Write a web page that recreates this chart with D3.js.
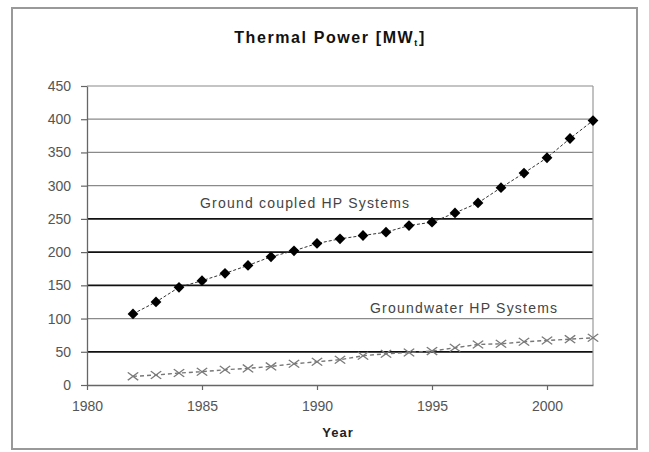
<!DOCTYPE html>
<html>
<head>
<meta charset="utf-8">
<script src="https://cdn.jsdelivr.net/npm/d3@7"></script>
<style>
  html, body { margin: 0; padding: 0; background: #fff; }
  svg { display: block; font-family: "Liberation Sans", Arial, sans-serif; }
</style>
</head>
<body>
<svg id="chart" width="649" height="452"></svg>
<script>
// ---- data ----
const years = [1982,1983,1984,1985,1986,1987,1988,1989,1990,1991,1992,1993,1994,1995,1996,1997,1998,1999,2000,2001,2002];
const groundCoupled = [107,125,147,157,168,180,193,202,213,220,225,230,240,245,259,274,297,319,342,371,398];
const groundwater = [13,15,18,20,23,25,28,32,35,38,44,47,49,51,56,61,62,65,67,69,71];
const yTicks = [0,50,100,150,200,250,300,350,400,450];
const xTicks = [1980,1985,1990,1995,2000];
const darkGrid = [50,150,200,250];
const lightGrid = [100,300,350,400,450];
const title = "Thermal Power [MW";
const titleSub = "t";
const xTitle = "Year";
const seriesLabels = ["Ground coupled HP Systems", "Groundwater HP Systems"];

// ---- layout ----
const svg = d3.select("#chart");
const x = d3.scaleLinear().domain([1980, 2002]).range([87, 593]);
const y = d3.scaleLinear().domain([0, 450]).range([385, 86]);

svg.append("rect").attr("width", 649).attr("height", 452).attr("fill", "#fff");
// outer frame
svg.append("rect").attr("x", 12).attr("y", 8).attr("width", 625).attr("height", 441)
  .attr("fill", "none").attr("stroke", "#999").attr("stroke-width", 2);

// title
const t = svg.append("text").attr("x", 330).attr("y", 43).attr("text-anchor", "middle")
  .attr("font-size", 16).attr("font-weight", "bold").attr("fill", "#111")
  .attr("letter-spacing", 1.6);
t.append("tspan").text(title);
t.append("tspan").attr("font-size", 9).attr("dy", 3).text(titleSub);
t.append("tspan").attr("dy", -3).text("]");

// gridlines
svg.append("g").selectAll("line").data(lightGrid).join("line")
  .attr("x1", x(1980)).attr("x2", x(2002)).attr("y1", d => y(d)).attr("y2", d => y(d))
  .attr("stroke", "#8a8a8a").attr("stroke-width", 1.2);
svg.append("g").selectAll("line").data(darkGrid).join("line")
  .attr("x1", x(1980)).attr("x2", x(2002)).attr("y1", d => y(d)).attr("y2", d => y(d))
  .attr("stroke", "#111").attr("stroke-width", 1.8);
// right plot border
svg.append("line").attr("x1", x(2002)).attr("x2", x(2002)).attr("y1", y(450)).attr("y2", y(0))
  .attr("stroke", "#999").attr("stroke-width", 1.2);

// axes
const yAxis = svg.append("g").attr("transform", `translate(${x(1980)},0)`)
  .call(d3.axisLeft(y).tickValues(yTicks).tickSize(6).tickSizeOuter(0).tickPadding(10));
const xAxis = svg.append("g").attr("transform", `translate(0,${y(0)})`)
  .call(d3.axisBottom(x).tickValues(xTicks).tickFormat(d3.format("d")).tickSize(5).tickSizeOuter(0).tickPadding(11));
[yAxis, xAxis].forEach(a => {
  a.select(".domain").attr("stroke", "#666").attr("stroke-width", 1.3);
  a.selectAll(".tick line").attr("stroke", "#666").attr("stroke-width", 1.2);
  a.selectAll(".tick text").attr("font-size", 14).attr("fill", "#555")
    .attr("font-family", "Liberation Sans, Arial, sans-serif");
});

// axis title
svg.append("text").attr("x", 338).attr("y", 437).attr("text-anchor", "middle")
  .attr("font-size", 13).attr("font-weight", "bold").attr("fill", "#222")
  .attr("letter-spacing", 1).text(xTitle);

// series label texts
svg.append("text").attr("x", 200).attr("y", 208).attr("font-size", 14).attr("fill", "#444")
  .attr("textLength", 209).attr("lengthAdjust", "spacing").text(seriesLabels[0]);
svg.append("text").attr("x", 370).attr("y", 313).attr("font-size", 14).attr("fill", "#444")
  .attr("textLength", 187).attr("lengthAdjust", "spacing").text(seriesLabels[1]);

// groundwater series
const gw = years.map((d, i) => [d, groundwater[i]]);
svg.append("path").datum(gw)
  .attr("d", d3.line().x(d => x(d[0])).y(d => y(d[1])))
  .attr("fill", "none").attr("stroke", "#777").attr("stroke-width", 1.4)
  .attr("stroke-dasharray", "4,3");
svg.append("g").selectAll("path").data(gw).join("path")
  .attr("transform", d => `translate(${x(d[0])},${y(d[1])}) scale(1,0.75)`)
  .attr("d", d3.symbol().type(d3.symbolTimes).size(72))
  .attr("fill", "none").attr("stroke", "#7a7a7a").attr("stroke-width", 1.5);

// ground coupled series
const gc = years.map((d, i) => [d, groundCoupled[i]]);
svg.append("path").datum(gc)
  .attr("d", d3.line().x(d => x(d[0])).y(d => y(d[1])))
  .attr("fill", "none").attr("stroke", "#333").attr("stroke-width", 1)
  .attr("stroke-dasharray", "3,2");
svg.append("g").selectAll("path").data(gc).join("path")
  .attr("transform", d => `translate(${x(d[0])},${y(d[1])}) rotate(45)`)
  .attr("d", d3.symbol().type(d3.symbolSquare).size(58))
  .attr("fill", "#000");
</script>
</body>
</html>
